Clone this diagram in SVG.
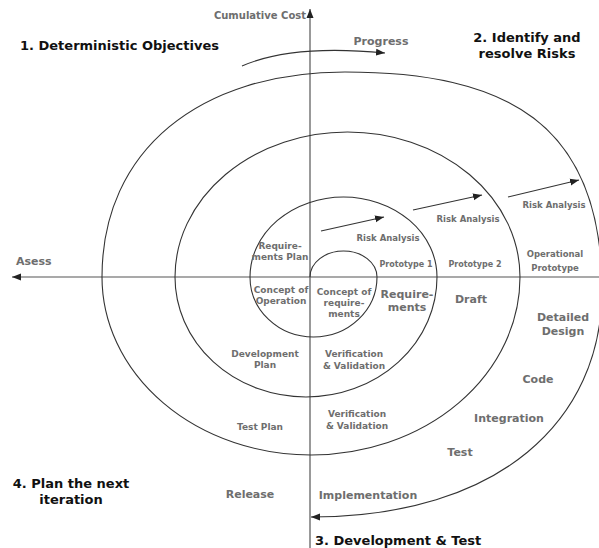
<svg xmlns="http://www.w3.org/2000/svg" width="599" height="548" viewBox="0 0 599 548">
<style>
.ln{fill:none;stroke:#333;stroke-width:1.1}
.ax{fill:none;stroke:#555;stroke-width:1.2}
.hd{font-family:"DejaVu Sans","Liberation Sans",sans-serif;font-weight:bold;font-size:13px;fill:#111}
.lb{font-family:"DejaVu Sans","Liberation Sans",sans-serif;font-weight:bold;font-size:11px;fill:#6e6e6e}
.sm{font-family:"DejaVu Sans","Liberation Sans",sans-serif;font-weight:bold;font-size:9px;fill:#6e6e6e}
.xs{font-family:"DejaVu Sans","Liberation Sans",sans-serif;font-weight:bold;font-size:8px;fill:#6e6e6e}
.ra{font-family:"DejaVu Sans","Liberation Sans",sans-serif;font-weight:bold;font-size:8.5px;fill:#6e6e6e}
</style>
<defs>
<marker id="ah" markerUnits="userSpaceOnUse" markerWidth="10" markerHeight="8" refX="9" refY="4" orient="auto">
<path d="M0,0.5 L9,4 L0,7.5 Z" fill="#222"/>
</marker>
</defs>
<rect width="599" height="548" fill="#fff"/>
<g id="connectors">
<line class="ax" x1="310" y1="548" x2="310" y2="9" marker-end="url(#ah)"/>
<line class="ax" x1="599" y1="277" x2="12" y2="277" marker-end="url(#ah)"/>
<path class="ln" d="M310,277 A33.5,26 0 0 1 377,277 A63.5,60 0 0 1 250,277 A93.5,80 0 0 1 437,277 A131,120 0 0 1 175,277 A172.5,145 0 0 1 520,277 A209,178 0 0 1 102,277 C102,150 200,72 345,72 C505,72 602,122 602,290 C602,420 500,517 311,517" marker-end="url(#ah)"/>
<path class="ln" d="M242,66 Q292,44 385,53" marker-end="url(#ah)"/>
<line class="ln" x1="321" y1="231" x2="384" y2="217" marker-end="url(#ah)"/>
<line class="ln" x1="413" y1="210" x2="482" y2="195" marker-end="url(#ah)"/>
<line class="ln" x1="508" y1="197" x2="579" y2="180" marker-end="url(#ah)"/>
</g>
<g id="q1"><text class="hd" x="20" y="50">1. Deterministic Objectives</text></g>
<g id="q2"><text class="hd" x="527" y="42" text-anchor="middle">2. Identify and</text><text class="hd" x="527" y="58" text-anchor="middle">resolve Risks</text></g>
<g id="q3"><text class="hd" x="315" y="545">3. Development &amp; Test</text></g>
<g id="q4"><text class="hd" x="71" y="488" text-anchor="middle">4. Plan the next</text><text class="hd" x="71" y="504" text-anchor="middle">iteration</text></g>
<g id="cumcost"><text class="lb" x="306" y="19" text-anchor="end" style="font-size:10px">Cumulative Cost</text></g>
<g id="progress"><text class="lb" x="381" y="45" text-anchor="middle">Progress</text></g>
<g id="asess"><text class="lb" x="16" y="265">Asess</text></g>
<g id="reqplan"><text class="sm" x="280" y="249" text-anchor="middle">Require-</text><text class="sm" x="280" y="260" text-anchor="middle">ments Plan</text></g>
<g id="conop"><text class="sm" x="281" y="293" text-anchor="middle">Concept of</text><text class="sm" x="281" y="304" text-anchor="middle">Operation</text></g>
<g id="conreq"><text class="sm" x="344" y="295" text-anchor="middle">Concept of</text><text class="sm" x="344" y="306" text-anchor="middle">require-</text><text class="sm" x="344" y="317" text-anchor="middle">ments</text></g>
<g id="ra1"><text class="ra" x="388" y="241" text-anchor="middle">Risk Analysis</text></g>
<g id="ra2"><text class="ra" x="468" y="222" text-anchor="middle">Risk Analysis</text></g>
<g id="ra3"><text class="ra" x="554" y="208" text-anchor="middle">Risk Analysis</text></g>
<g id="proto1"><text class="xs" x="406" y="267" text-anchor="middle">Prototype 1</text></g>
<g id="proto2"><text class="xs" x="475" y="267" text-anchor="middle">Prototype 2</text></g>
<g id="opproto"><text class="ra" x="555" y="257" text-anchor="middle">Operational</text><text class="ra" x="555" y="271" text-anchor="middle">Prototype</text></g>
<g id="requirements"><text class="lb" x="407" y="298" text-anchor="middle">Require-</text><text class="lb" x="407" y="311" text-anchor="middle">ments</text></g>
<g id="draft"><text class="lb" x="471" y="303" text-anchor="middle">Draft</text></g>
<g id="detdesign"><text class="lb" x="563" y="321" text-anchor="middle">Detailed</text><text class="lb" x="563" y="335" text-anchor="middle">Design</text></g>
<g id="code"><text class="lb" x="538" y="383" text-anchor="middle">Code</text></g>
<g id="integration"><text class="lb" x="509" y="422" text-anchor="middle">Integration</text></g>
<g id="test"><text class="lb" x="460" y="456" text-anchor="middle">Test</text></g>
<g id="implementation"><text class="lb" x="368" y="499" text-anchor="middle">Implementation</text></g>
<g id="release"><text class="lb" x="250" y="498" text-anchor="middle">Release</text></g>
<g id="devplan"><text class="sm" x="265" y="357" text-anchor="middle">Development</text><text class="sm" x="265" y="368" text-anchor="middle">Plan</text></g>
<g id="vv1"><text class="sm" x="354" y="357" text-anchor="middle">Verification</text><text class="sm" x="354" y="369" text-anchor="middle">&amp; Validation</text></g>
<g id="vv2"><text class="sm" x="357" y="417" text-anchor="middle">Verification</text><text class="sm" x="357" y="429" text-anchor="middle">&amp; Validation</text></g>
<g id="testplan"><text class="sm" x="260" y="430" text-anchor="middle">Test Plan</text></g>
</svg>
